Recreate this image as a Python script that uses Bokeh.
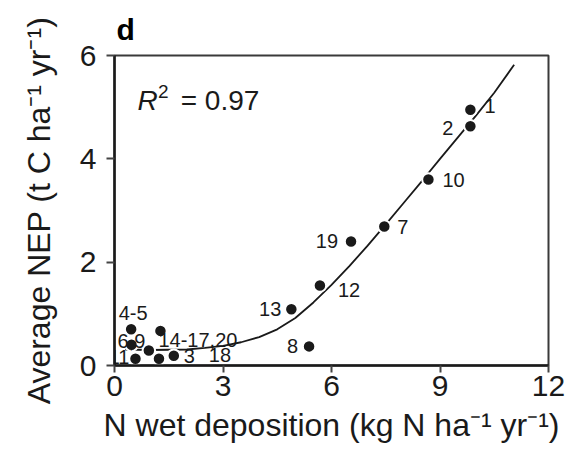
from bokeh.plotting import figure
from bokeh.models import Range1d, FixedTicker, Label, ColumnDataSource
from bokeh.core.properties import value
from bokeh.embed import file_html
from bokeh.resources import INLINE

# ---- data ----
n_dep = [9.84, 9.84, 8.68, 7.46, 6.54, 5.68, 4.89, 5.38, 0.46, 1.27, 0.47, 0.95, 0.58, 1.23, 1.64]
nep = [4.95, 4.63, 3.60, 2.69, 2.40, 1.55, 1.09, 0.37, 0.70, 0.67, 0.40, 0.29, 0.13, 0.13, 0.19]

fit_x = [0.3, 1.0, 2.0, 2.5, 3.0, 3.5, 4.0, 4.5, 5.0, 5.5, 6.0, 6.5, 7.0, 7.5, 8.0, 8.5, 9.0, 9.5, 10.0, 10.5, 11.05]
fit_y = [0.31, 0.30, 0.31, 0.34, 0.38, 0.45, 0.55, 0.70, 0.92, 1.22, 1.56, 1.93, 2.32, 2.73, 3.15, 3.57, 4.0, 4.42, 4.84, 5.28, 5.82]

label_text = ["1", "2", "10", "7", "19", "12", "13", "8", "4-5", "14-17,20", "6,9", "11", "3", "18"]
label_anchor = [0, 1, 2, 3, 4, 5, 6, 7, 8, 9, 10, 12, 14, 14]

x_ticks = [0, 3, 6, 9, 12]
y_ticks = [0, 2, 4, 6]
r2_text = "= 0.97"

# ---- styles ----
label_dx = [14, -17, 14, 13, -13, 18, -10, -11, 2, -2, 0, -6, 10, 35]
label_dy = [-4, 2, 0, 0, -1, 5, 0, 0, -16, 9, -4, -2, 0, -1]
label_align = ["left", "right", "left", "left", "right", "left", "right", "right",
               "center", "left", "center", "right", "left", "left"]
label_size = ["20px"] * 14

FONT = "Liberation Sans"
INK = "#1a1a1a"

p = figure(width=570, height=452, output_backend="svg", toolbar_location=None,
           x_range=Range1d(0, 12), y_range=Range1d(0, 6),
           min_border_left=114, min_border_right=22, min_border_top=53, min_border_bottom=87)

p.title.text = "d"
p.title.text_font = FONT
p.title.text_font_style = "bold"
p.title.text_font_size = "30px"
p.title.text_color = "#000000"
p.title.align = "left"
p.title.offset = 2
p.title.standoff = 20

p.xgrid.visible = False
p.ygrid.visible = False
p.outline_line_color = "#3a3a3a"
p.outline_line_width = 2
p.outline_line_alpha = 1

p.xaxis.ticker = FixedTicker(ticks=x_ticks)
p.yaxis.ticker = FixedTicker(ticks=y_ticks)
p.xaxis.axis_label = "N wet deposition (kg N ha\u207b\u00b9 yr\u207b\u00b9)"
p.yaxis.axis_label = "Average NEP (t C ha\u207b\u00b9 yr\u207b\u00b9)"
for ax in (p.xaxis[0], p.yaxis[0]):
    ax.axis_line_color = INK
    ax.axis_line_width = 2.5
    ax.major_tick_line_color = "#444444"
    ax.major_tick_line_width = 2
    ax.major_tick_in = 0
    ax.minor_tick_line_color = None
    ax.major_label_text_font = FONT
    ax.major_label_text_font_size = "30px"
    ax.major_label_text_color = INK
    ax.axis_label_text_font = FONT
    ax.axis_label_text_font_size = "32px"
    ax.axis_label_text_font_style = "normal"
    ax.axis_label_text_color = INK
p.xaxis.major_tick_out = 7
p.xaxis.major_label_standoff = 3
p.xaxis.axis_label_standoff = 8
p.yaxis.major_tick_out = 8
p.yaxis.major_label_standoff = 10
p.yaxis.axis_label_standoff = 20

# fitted curve
p.line(fit_x, fit_y, line_color=INK, line_width=1.8)

# points
p.scatter(n_dep, nep, size=12.5, fill_color=INK, line_color="white", line_width=2)

# labels
src = ColumnDataSource(dict(
    x=[n_dep[i] for i in label_anchor],
    y=[nep[i] for i in label_anchor],
    t=label_text, dx=label_dx, dy=label_dy, al=label_align, fs=label_size))
p.text(x="x", y="y", text="t", x_offset="dx", y_offset="dy", text_align="al",
       text_baseline="middle", text_font_size="fs", text_font=value(FONT),
       text_color=INK, source=src)

# R^2 annotation
p.add_layout(Label(x=0.637, y=5.13, text="R", text_font=FONT, text_font_size="28px",
                   text_font_style="italic", text_color=INK, text_baseline="alphabetic"))
p.add_layout(Label(x=1.2, y=5.30, text="2", text_font=FONT, text_font_size="19px",
                   text_color=INK, text_baseline="alphabetic"))
p.add_layout(Label(x=1.83, y=5.13, text=r2_text, text_font=FONT, text_font_size="28px",
                   text_color=INK, text_baseline="alphabetic"))

open("out.html", "w").write(file_html(p, INLINE))
